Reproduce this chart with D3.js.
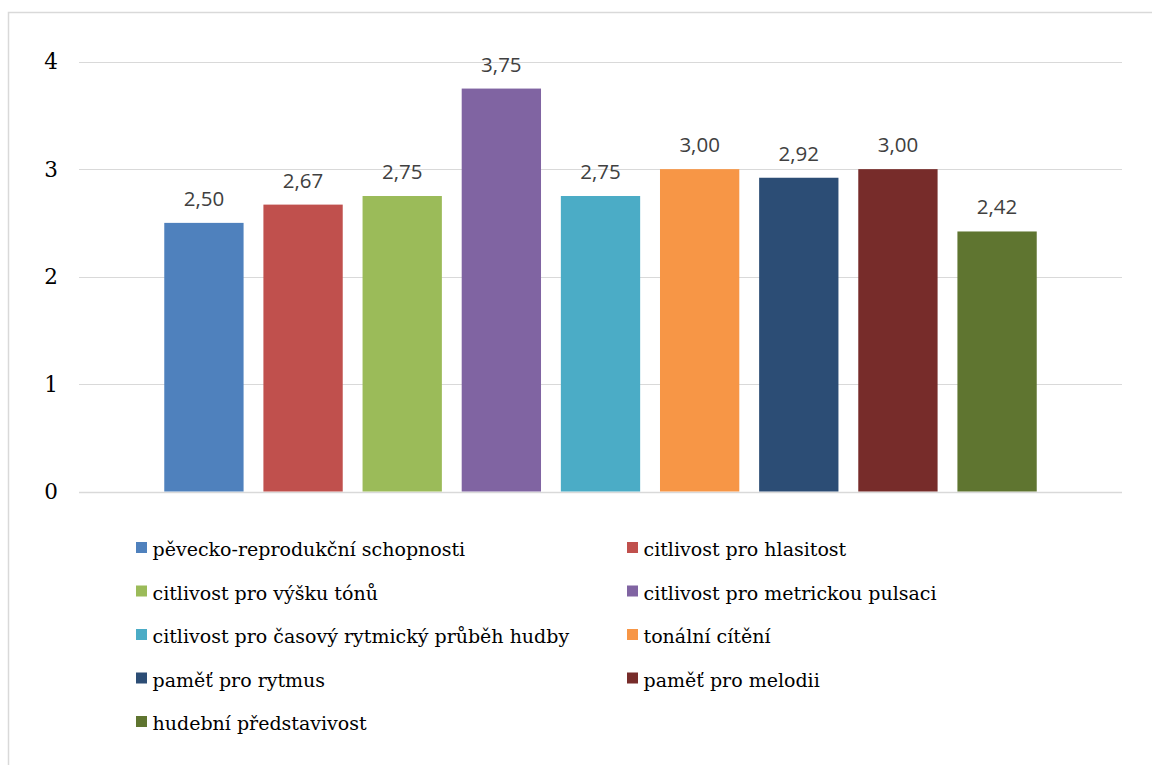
<!DOCTYPE html>
<html lang="cs">
<head>
<meta charset="utf-8">
<script src="https://cdn.jsdelivr.net/npm/d3@7/dist/d3.min.js"></script>
<style>
  html, body { margin: 0; padding: 0; background: #ffffff; }
  svg { display: block; }
  .serif { font-family: "DejaVu Serif", serif; }
  .sans { font-family: "Open Sans", "Liberation Sans", Arial, sans-serif; }
</style>
</head>
<body>
<svg id="chart" width="1152" height="765"></svg>
<script>
// Series (one bar per skill) and their mean scores
const seriesNames = [
  "pěvecko-reprodukční schopnosti",
  "citlivost pro hlasitost",
  "citlivost pro výšku tónů",
  "citlivost pro metrickou pulsaci",
  "citlivost pro časový rytmický průběh hudby",
  "tonální cítění",
  "paměť pro rytmus",
  "paměť pro melodii",
  "hudební představivost"
];
const seriesValues = [2.50, 2.67, 2.75, 3.75, 2.75, 3.00, 2.92, 3.00, 2.42];
const seriesColors = ["#4F81BD", "#C0504D", "#9BBB59", "#8064A2", "#4BACC6",
                      "#F79646", "#2C4D75", "#772C2A", "#5F7530"];
const yTicks = [0, 1, 2, 3, 4];

const svg = d3.select("#chart");

// Outer chart frame
svg.append("rect")
  .attr("x", 8.5).attr("y", 12.5)
  .attr("width", 1160).attr("height", 780)
  .attr("fill", "none")
  .attr("stroke", "#d9d9d9")
  .attr("stroke-width", 1.5);

const plot = { left: 79, right: 1122, top: 61.7, bottom: 491.5 };

const y = d3.scaleLinear().domain([0, 4]).range([plot.bottom, plot.top]);
const x = d3.scaleBand()
  .domain(seriesNames)
  .range([plot.left, plot.right])
  .paddingInner(0.2)
  .paddingOuter(0.86);

// Horizontal gridlines
svg.append("g")
  .selectAll("line")
  .data(yTicks)
  .join("line")
  .attr("x1", plot.left).attr("x2", plot.right)
  .attr("y1", d => Math.round(y(d)) + 0.5)
  .attr("y2", d => Math.round(y(d)) + 0.5)
  .attr("stroke", "#d9d9d9")
  .attr("stroke-width", d => d === 0 ? 1.5 : 1);

// Y axis labels
const yAxis = d3.axisLeft(y).tickValues(yTicks).tickFormat(d3.format("d")).tickSize(0).tickPadding(0);
const gy = svg.append("g").attr("transform", "translate(58,0)").call(yAxis);
gy.attr("font-family", null).attr("font-size", null);
gy.select(".domain").remove();
gy.selectAll("text")
  .attr("class", "serif")
  .style("font-size", "21.5px")
  .attr("fill", "#000000")
  .attr("dy", "0.33em");

// Bars
const data = seriesNames.map((name, i) => ({ name, value: seriesValues[i], color: seriesColors[i] }));

svg.append("g")
  .selectAll("rect")
  .data(data)
  .join("rect")
  .attr("x", d => x(d.name))
  .attr("width", x.bandwidth())
  .attr("y", d => y(d.value))
  .attr("height", d => y(0) - y(d.value))
  .attr("fill", d => d.color);

// Value labels above bars
const fmt = v => d3.format(".2f")(v).replace(".", ",");
svg.append("g")
  .selectAll("text")
  .data(data)
  .join("text")
  .attr("class", "sans")
  .attr("x", d => x(d.name) + x.bandwidth() / 2)
  .attr("y", d => y(d.value) - 17)
  .attr("text-anchor", "middle")
  .style("font-size", "20.5px")
  .attr("fill", "#404040")
  .text(d => fmt(d.value));

// Legend: two columns
const legendCols = [136, 627];
const legendTop = 542;
const rowStep = 43.5;
const legend = svg.append("g")
  .selectAll("g")
  .data(data)
  .join("g")
  .attr("transform", (d, i) => `translate(${legendCols[i % 2]},${legendTop + Math.floor(i / 2) * rowStep})`);

legend.append("rect")
  .attr("width", 11).attr("height", 11)
  .attr("fill", d => d.color);

legend.append("text")
  .attr("class", "serif")
  .attr("x", 16.5)
  .attr("y", 14)
  .style("font-size", "19px")
  .attr("fill", "#000000")
  .text(d => d.name);
</script>
</body>
</html>
